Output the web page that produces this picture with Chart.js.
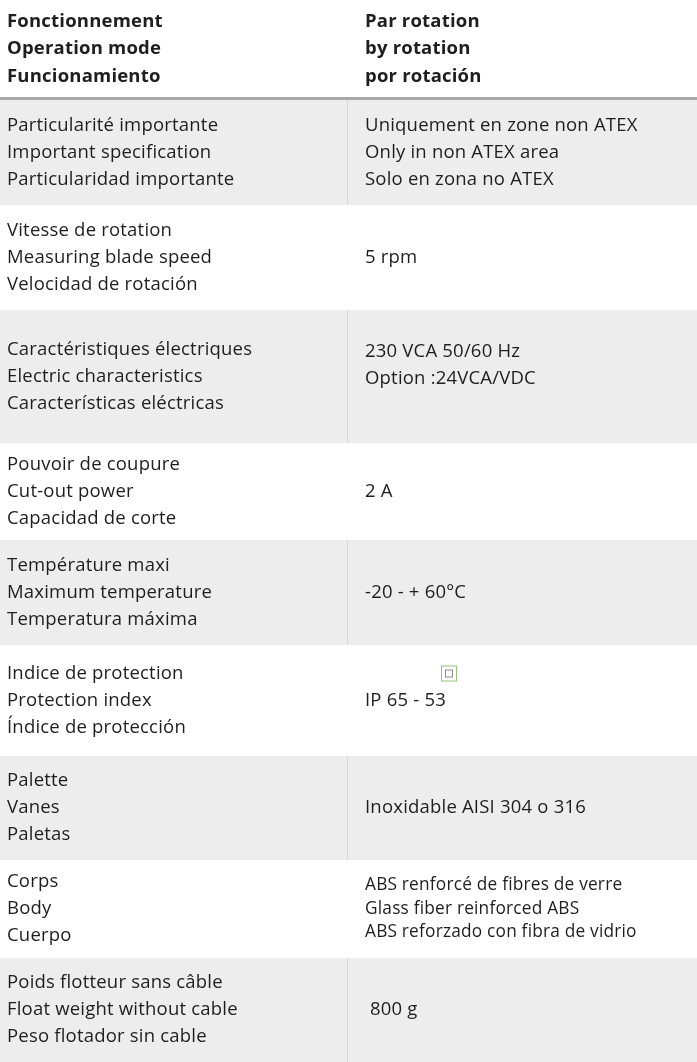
<!DOCTYPE html>
<html>
<head>
<meta charset="utf-8">
<script src="https://cdn.jsdelivr.net/npm/chart.js@4.4.1/dist/chart.umd.min.js"></script>
<style>
  html, body { margin: 0; padding: 0; background: #fff; }
  canvas { display: block; }
</style>
</head>
<body>
<canvas id="table" width="697" height="1062"></canvas>
<script>
const headerLabels = ["Fonctionnement", "Operation mode", "Funcionamiento"];
const headerValues = ["Par rotation", "by rotation", "por rotación"];

const propertiesFr = [
  "Particularité importante",
  "Vitesse de rotation",
  "Caractéristiques électriques",
  "Pouvoir de coupure",
  "Température maxi",
  "Indice de protection",
  "Palette",
  "Corps",
  "Poids flotteur sans câble",
];
const propertiesEn = [
  "Important specification",
  "Measuring blade speed",
  "Electric characteristics",
  "Cut-out power",
  "Maximum temperature",
  "Protection index",
  "Vanes",
  "Body",
  "Float weight without cable",
];
const propertiesEs = [
  "Particularidad importante",
  "Velocidad de rotación",
  "Características eléctricas",
  "Capacidad de corte",
  "Temperatura máxima",
  "Índice de protección",
  "Paletas",
  "Cuerpo",
  "Peso flotador sin cable",
];
const propertyValues = [
  ["Uniquement en zone non ATEX", "Only in non ATEX area", "Solo en zona no ATEX"],
  ["5 rpm"],
  ["230 VCA 50/60 Hz", "Option :24VCA/VDC"],
  ["2 A"],
  ["-20 - + 60°C"],
  ["IP 65 - 53"],
  ["Inoxidable AISI 304 o 316"],
  ["ABS renforcé de fibres de verre", "Glass fiber reinforced ABS", "ABS reforzado con fibra de vidrio"],
  [" 800 g"],
];

// layout, in the scale units (1 unit = 1 px of the reference)
const pageW = 697, pageH = 1062;
const headerH = 98;
const rowHeights = [105, 105, 133, 97, 105, 111, 104, 98, 104];
const rowEdges = [headerH + 2];
rowHeights.forEach(h => rowEdges.push(rowEdges[rowEdges.length - 1] + h));
const labelX = 7, valueX = 365, dividerX = 347;
const lineGap = 27;
const valueSizes = [18.5, 18.5, 18.5, 18.5, 18.5, 18.5, 18.5, 17.3, 18.5];
const valueTopAligned = [false, false, true, false, false, false, false, false, false];

const fontFamily = "'Open Sans', Lato, sans-serif";
const textColor = "#1e1e1e";

const tablePlugin = {
  id: "tablePlugin",
  beforeDatasetsDraw(chart) {
    const { ctx, scales: { x, y } } = chart;
    ctx.save();
    rowHeights.forEach((h, i) => {
      if (i % 2 !== 0) return;
      const top = y.getPixelForValue(rowEdges[i]);
      const bottom = y.getPixelForValue(rowEdges[i + 1]);
      ctx.fillStyle = "#ededed";
      ctx.fillRect(x.left, top, x.right - x.left, bottom - top);
      const dx = Math.round(x.getPixelForValue(dividerX)) + 0.5;
      ctx.strokeStyle = "#d6d6d6";
      ctx.lineWidth = 1;
      ctx.beginPath();
      ctx.moveTo(dx, top);
      ctx.lineTo(dx, bottom);
      ctx.stroke();
    });
    // header rule
    ctx.fillStyle = "#a8a8a8";
    const r0 = y.getPixelForValue(headerH - 1), r1 = y.getPixelForValue(headerH + 2);
    ctx.fillRect(x.left, r0, x.right - x.left, r1 - r0);
    ctx.restore();
  },
  afterDatasetsDraw(chart) {
    const { ctx, scales: { x, y } } = chart;
    ctx.save();
    ctx.fillStyle = textColor;
    ctx.textAlign = "left";
    ctx.textBaseline = "middle";
    ctx.letterSpacing = "0.2px";

    const lx = x.getPixelForValue(labelX), vx = x.getPixelForValue(valueX);
    const hMid = headerH / 2;
    ctx.font = "bold 18.5px " + fontFamily;
    headerLabels.forEach((t, k) => ctx.fillText(t, lx, y.getPixelForValue(hMid + (k - 1) * 27.5)));
    headerValues.forEach((t, k) => ctx.fillText(t, vx, y.getPixelForValue(hMid + (k - 1) * 27.5)));

    rowHeights.forEach((h, i) => {
      const mid = (rowEdges[i] + rowEdges[i + 1]) / 2;
      const labels = [propertiesFr[i], propertiesEn[i], propertiesEs[i]];
      ctx.font = "18.5px " + fontFamily;
      labels.forEach((t, k) => ctx.fillText(t, lx, y.getPixelForValue(mid + (k - 1) * lineGap)));

      const vals = propertyValues[i];
      const size = valueSizes[i];
      const gap = size < 18 ? 23.5 : lineGap;
      ctx.font = size + "px " + fontFamily;
      vals.forEach((t, k) => {
        let v;
        if (valueTopAligned[i]) v = mid - lineGap + k * lineGap + 2;
        else v = mid + (k - (vals.length - 1) / 2) * gap;
        ctx.fillText(t, vx, y.getPixelForValue(v));
      });

      // small picture frame left in the protection row
      if (i === 5) {
        const bx = x.getPixelForValue(441), by = y.getPixelForValue(mid - lineGap - 8);
        ctx.strokeStyle = "#93c47d";
        ctx.lineWidth = 1;
        ctx.fillStyle = "#fff";
        ctx.fillRect(bx, by, 15, 15);
        ctx.strokeRect(bx + 0.5, by + 0.5, 15, 15);
        ctx.strokeStyle = "#8a8a8a";
        ctx.strokeRect(bx + 4.5, by + 4.5, 7, 7);
        ctx.fillStyle = textColor;
      }
    });
    ctx.restore();
  },
};

new Chart(document.getElementById("table"), {
  type: "scatter",
  data: { datasets: [] },
  plugins: [tablePlugin],
  options: {
    responsive: false,
    animation: false,
    devicePixelRatio: 1,
    layout: { padding: 0 },
    plugins: { legend: { display: false }, tooltip: { enabled: false } },
    scales: {
      x: { type: "linear", min: 0, max: pageW, display: false },
      y: { type: "linear", min: 0, max: pageH, reverse: true, display: false },
    },
  },
});
</script>
</body>
</html>
